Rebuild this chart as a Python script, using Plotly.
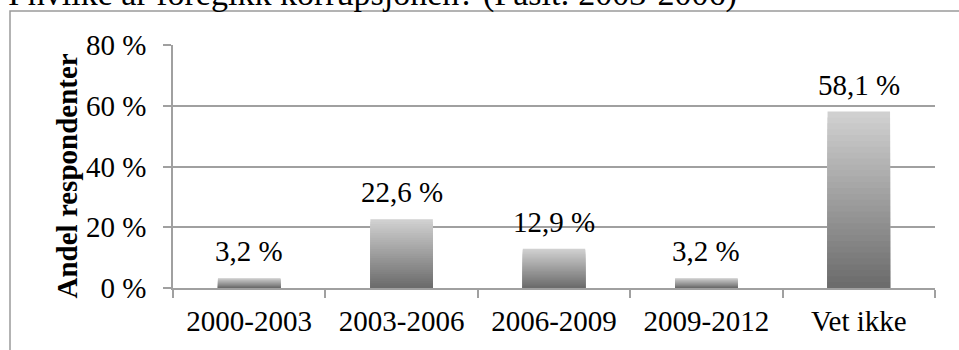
import plotly.graph_objects as go

# ---- data ----
categories = ["2000-2003", "2003-2006", "2006-2009", "2009-2012", "Vet ikke"]
values = [3.2, 22.6, 12.9, 3.2, 58.1]
y_tick_values = [0, 20, 40, 60, 80]
y_tick_labels = ["0 %", "20 %", "40 %", "60 %", "80 %"]
title_text = "I hvilke år foregikk korrupsjonen? (Fasit: 2003-2006)"
y_title = "Andel respondenter"

# ---- layout geometry (pixels) ----
W, H = 959, 350
L, R, T, B = 173, 935, 45, 288
PW, PH = R - L, B - T


def px_x(p):
    return (p - L) / PW


def px_y(p):
    return (B - p) / PH


FONT = "Liberation Serif"
GRID = "#a0a0a0"
TXT = 29

fig = go.Figure()

# gradient bars: overlay of progressively shorter, darker bars
N = 30
top_rgb = (208, 208, 208)
bot_rgb = (108, 108, 108)
for k in range(N):
    t = k / (N - 1)
    c = tuple(round(top_rgb[i] + (bot_rgb[i] - top_rgb[i]) * t) for i in range(3))
    frac = 1 - k / N
    fig.add_trace(go.Bar(
        x=categories,
        y=[v * frac for v in values],
        marker=dict(color="rgb(%d,%d,%d)" % c, line=dict(width=0)),
        showlegend=False,
        hoverinfo="skip" if k else None,
    ))

# data labels
for cat, v in zip(categories, values):
    fig.add_annotation(
        x=cat, y=v, xref="x", yref="y",
        text=("%.1f" % v).replace(".", ",") + " %",
        showarrow=False, yanchor="middle", yshift=27,
        font=dict(family=FONT, size=TXT, color="#000000"),
    )

# title (partially clipped at top, as in the reference)
fig.add_annotation(
    x=px_x(6), y=px_y(15), xref="paper", yref="paper",
    xanchor="left", yanchor="bottom",
    text=title_text, showarrow=False,
    font=dict(family=FONT, size=34, color="#000000"),
)

# y-axis title
fig.add_annotation(
    x=px_x(66), y=px_y(176.5), xref="paper", yref="paper",
    xanchor="center", yanchor="middle", textangle=-90,
    text="<b>" + y_title + "</b>", showarrow=False,
    font=dict(family=FONT, size=29, color="#000000"),
)

# chart frame (left and top edges visible)
fig.add_shape(
    type="rect", xref="paper", yref="paper",
    x0=px_x(10), x1=px_x(990), y0=px_y(380), y1=px_y(11),
    line=dict(color="#9a9a9a", width=1.5), fillcolor="rgba(0,0,0,0)",
    layer="below",
)

fig.update_layout(
    width=W, height=H,
    margin=dict(l=L, r=W - R, t=T, b=H - B, pad=0),
    paper_bgcolor="white", plot_bgcolor="white",
    barmode="overlay", bargap=0.59,
    font=dict(family=FONT, size=TXT, color="#000000"),
    showlegend=False,
)

fig.update_xaxes(
    type="category",
    showline=True, linecolor=GRID, linewidth=1.5,
    ticks="outside", tickson="boundaries", ticklen=8, tickcolor=GRID, tickwidth=1.5,
    ticklabelstandoff=6,
    showgrid=False,
    tickfont=dict(family=FONT, size=TXT, color="#000000"),
)

fig.update_yaxes(
    range=[0, 80],
    tickvals=y_tick_values, ticktext=y_tick_labels,
    showline=True, linecolor=GRID, linewidth=1.5,
    ticks="outside", ticklen=8, tickcolor=GRID, tickwidth=1.5,
    ticklabelstandoff=11,
    showgrid=True, gridcolor=GRID, gridwidth=1.5,
    zeroline=False,
    tickfont=dict(family=FONT, size=TXT, color="#000000"),
)

fig.write_html("out.html")
